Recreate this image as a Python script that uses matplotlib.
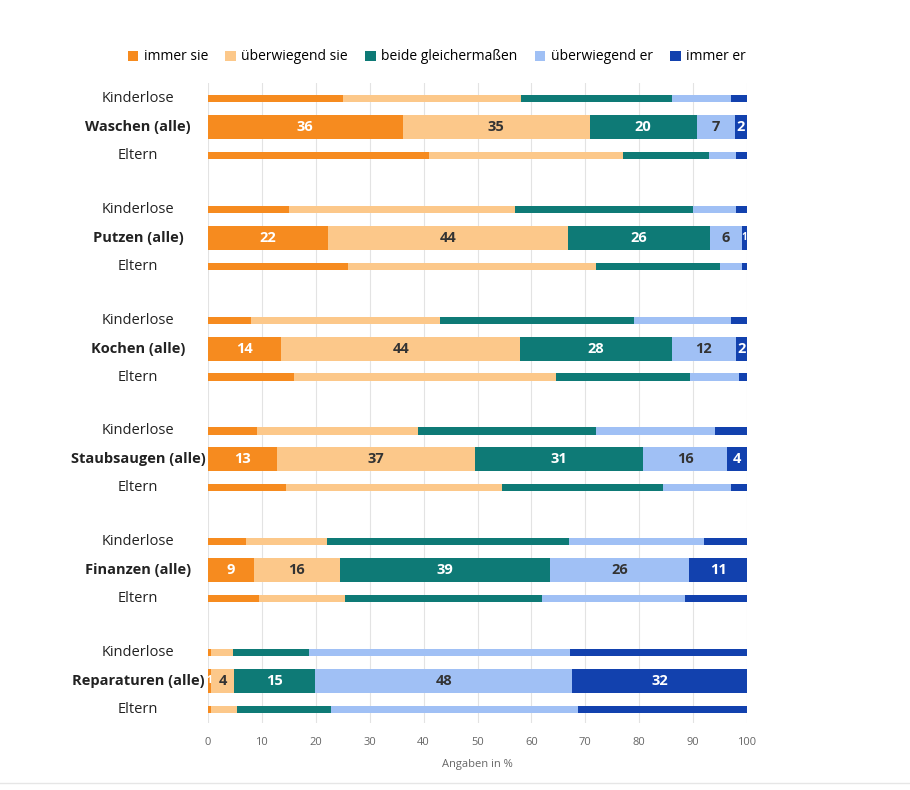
import matplotlib.pyplot as plt
import matplotlib.transforms as mtransforms
from matplotlib.patches import Patch
import numpy as np

plt.rcParams.update({
    "font.family": ["Open Sans", "DejaVu Sans"],
    "figure.facecolor": "white",
    "savefig.facecolor": "white",
})

# --- data -----------------------------------------------------------------
tasks = ["Waschen", "Putzen", "Kochen", "Staubsaugen", "Finanzen", "Reparaturen"]
answers = ["immer sie", "überwiegend sie", "beide gleichermaßen",
           "überwiegend er", "immer er"]

# shares per task, in the order of `answers`
kinderlose = [
    [25, 33, 28, 11, 3],
    [15, 42, 33, 8, 2],
    [8, 35, 36, 18, 3],
    [9, 30, 33, 22, 6],
    [7, 15, 45, 25, 9],
    [0.6, 4.1, 14, 48.5, 32.8],
]
alle = [
    [36.1, 34.7, 19.9, 7.0, 2.3],
    [22.3, 44.4, 26.4, 5.9, 1.0],
    [13.6, 44.3, 28.1, 11.9, 2.1],
    [12.8, 36.8, 31.1, 15.6, 3.7],
    [8.6, 15.8, 39.1, 25.8, 10.7],
    [0.6, 4.2, 15.1, 47.7, 32.4],
]
eltern = [
    [41, 36, 16, 5, 2],
    [26, 46, 23, 4, 1],
    [16, 48.5, 25, 9, 1.5],
    [14.5, 40, 30, 12.5, 3],
    [9.5, 16, 36.5, 26.5, 11.5],
    [0.6, 4.8, 17.5, 45.8, 31.3],
]

colors = ["#F68B1F", "#FCC88A", "#0E7A76", "#A0C0F5", "#1241AE"]
label_colors = ["white", "#333333", "white", "#333333", "white"]

# --- layout ---------------------------------------------------------------
fig = plt.figure(figsize=(9.1, 7.9), dpi=100)
ax = fig.add_axes([208 / 910, 1 - 723 / 790, 539 / 910, 640 / 790])

GROUP_STEP = 3.9
thin_h = 0.25
thick_h = 0.85

trans = mtransforms.blended_transform_factory(ax.transAxes, ax.transData)

for g, task in enumerate(tasks):
    rows = [
        ("Kinderlose", kinderlose[g], thin_h, False),
        (f"{task} (alle)", alle[g], thick_h, True),
        ("Eltern", eltern[g], thin_h, False),
    ]
    for k, (name, vals, h, labelled) in enumerate(rows):
        y = g * GROUP_STEP + k
        left = 0.0
        for i, v in enumerate(vals):
            ax.barh(y, v, left=left, height=h, color=colors[i], linewidth=0)
            if labelled:
                txt = f"{round(v)}"
                fs = 10.5 if v >= 1.5 else 7
                ax.text(left + v / 2, y, txt, ha="center", va="center",
                        fontsize=fs, fontweight="bold", color=label_colors[i])
            left += v
        ax.text(-0.13, y, name, transform=trans, ha="center", va="center",
                fontsize=10.5, color="#222222",
                fontweight="bold" if labelled else "normal")

ax.set_xlim(0, 100)
ax.set_ylim(5 * GROUP_STEP + 2 + 0.49, -0.56)
ax.set_xticks(np.arange(0, 101, 10))
ax.set_yticks([])
ax.tick_params(axis="x", length=0, labelsize=8, labelcolor="#666666", pad=10)
ax.grid(axis="x", color="#E3E3E3", linewidth=0.8)
ax.set_axisbelow(True)
for s in ax.spines.values():
    s.set_visible(False)
ax.set_xlabel("Angaben in %", fontsize=8, color="#666666", labelpad=8)

handles = [Patch(facecolor=c, edgecolor="none") for c in colors]
fig.legend(handles, answers, loc="center", bbox_to_anchor=(0.48, 1 - 57 / 790),
           ncol=5, frameon=False, fontsize=10, handlelength=0.75,
           handleheight=0.75, handletextpad=0.4, columnspacing=1.25)

fig.add_artist(plt.Line2D([0, 1], [1 - 783 / 790] * 2, color="#E6E6E6",
                          linewidth=1, transform=fig.transFigure))

fig.savefig("out.png", dpi=100)
